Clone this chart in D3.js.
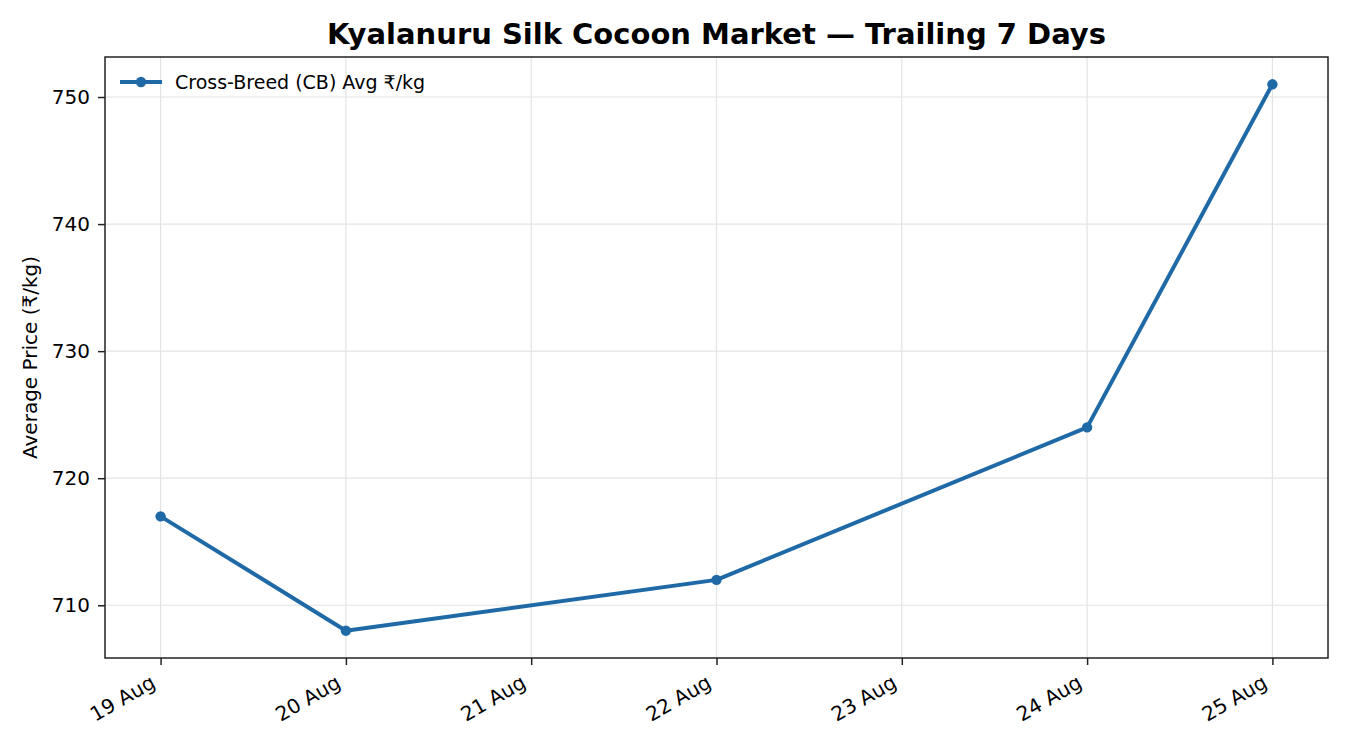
<!DOCTYPE html>
<html>
<head>
<meta charset="utf-8">
<script src="https://cdn.jsdelivr.net/npm/d3@7"></script>
<style>
  body { margin: 0; background: #fff; }
  text { font-family: "DejaVu Sans", sans-serif; }
</style>
</head>
<body>
<svg id="chart" width="1350" height="750"></svg>
<script>
const MARGIN = { top: 57, right: 22, bottom: 92, left: 105 };
const WIDTH = 1350;
const HEIGHT = 750;
const COLOR = '#1f6aa6';
const FONT_SIZE = 20;

// data (21 and 23 Aug have no reading)
const dates = ['2024-08-19', '2024-08-20', '2024-08-22', '2024-08-24', '2024-08-25'];
const prices = [717, 708, 712, 724, 751];
const tickDates = ['2024-08-19', '2024-08-20', '2024-08-21', '2024-08-22', '2024-08-23', '2024-08-24', '2024-08-25'];
const yTicks = [710, 720, 730, 740, 750];

const parse = d3.utcParse('%Y-%m-%d');
const data = dates.map((d, i) => ({ date: parse(d), price: prices[i] }));

const width = WIDTH - MARGIN.left - MARGIN.right;
const height = HEIGHT - MARGIN.top - MARGIN.bottom;

const svg = d3.select('#chart');
const g = svg.append('g').attr('transform', `translate(${MARGIN.left},${MARGIN.top})`);

// matplotlib-like 5% padding
const xExt = d3.extent(data, d => d.date);
const xPad = (xExt[1] - xExt[0]) * 0.05;
const x = d3.scaleUtc()
  .domain([new Date(+xExt[0] - xPad), new Date(+xExt[1] + xPad)])
  .range([0, width]);

const yExt = d3.extent(data, d => d.price);
const yPad = (yExt[1] - yExt[0]) * 0.05;
const y = d3.scaleLinear()
  .domain([yExt[0] - yPad, yExt[1] + yPad])
  .range([height, 0]);

// grid
g.append('g')
  .selectAll('line')
  .data(tickDates.map(parse))
  .join('line')
  .attr('x1', d => x(d)).attr('x2', d => x(d))
  .attr('y1', 0).attr('y2', height)
  .attr('stroke', '#e3e3e3').attr('stroke-width', 1.2);

g.append('g')
  .selectAll('line')
  .data(yTicks)
  .join('line')
  .attr('x1', 0).attr('x2', width)
  .attr('y1', d => y(d)).attr('y2', d => y(d))
  .attr('stroke', '#e3e3e3').attr('stroke-width', 1.2);

// axes
const axisX = d3.axisBottom(x)
  .tickValues(tickDates.map(parse))
  .tickFormat(d3.utcFormat('%d Aug'))
  .tickSize(7);

const gx = g.append('g')
  .attr('transform', `translate(0,${height})`)
  .call(axisX);
gx.select('.domain').remove();
gx.selectAll('line').attr('stroke', '#222').attr('stroke-width', 1.5);
gx.selectAll('text')
  .attr('font-size', FONT_SIZE)
  .attr('fill', '#000')
  .attr('text-anchor', 'end')
  .attr('x', 0).attr('y', 0).attr('dy', 0)
  .attr('transform', 'translate(-4.4,28.5) rotate(-30)');

const axisY = d3.axisLeft(y)
  .tickValues(yTicks)
  .tickSize(7)
  .tickPadding(8);

const gy = g.append('g').call(axisY);
gy.select('.domain').remove();
gy.selectAll('line').attr('stroke', '#222').attr('stroke-width', 1.5);
gy.selectAll('text').attr('font-size', FONT_SIZE).attr('fill', '#000');

// frame
g.append('rect')
  .attr('width', width).attr('height', height)
  .attr('fill', 'none').attr('stroke', '#222').attr('stroke-width', 1.5);

// line + markers
const line = d3.line().x(d => x(d.date)).y(d => y(d.price));

g.append('path')
  .datum(data)
  .attr('d', line)
  .attr('fill', 'none')
  .attr('stroke', COLOR)
  .attr('stroke-width', 4)
  .attr('stroke-linejoin', 'round');

g.append('g')
  .selectAll('circle')
  .data(data)
  .join('circle')
  .attr('cx', d => x(d.date))
  .attr('cy', d => y(d.price))
  .attr('r', 5.2)
  .attr('fill', COLOR);

// legend
const lg = g.append('g').attr('transform', 'translate(15,25)');
lg.append('line').attr('x1', 0).attr('x2', 42).attr('stroke', COLOR).attr('stroke-width', 4);
lg.append('circle').attr('cx', 21).attr('r', 5.2).attr('fill', COLOR);
lg.append('text')
  .attr('x', 55).attr('dy', '0.35em')
  .attr('font-size', 19)
  .text('Cross-Breed (CB) Avg ₹/kg');

// title + y label
svg.append('text')
  .attr('x', MARGIN.left + width / 2).attr('y', 44)
  .attr('text-anchor', 'middle')
  .attr('font-size', 29)
  .attr('font-weight', 'bold')
  .text('Kyalanuru Silk Cocoon Market — Trailing 7 Days');

svg.append('text')
  .attr('transform', `translate(37,${MARGIN.top + height / 2}) rotate(-90)`)
  .attr('text-anchor', 'middle')
  .attr('font-size', FONT_SIZE)
  .text('Average Price (₹/kg)');
</script>
</body>
</html>
